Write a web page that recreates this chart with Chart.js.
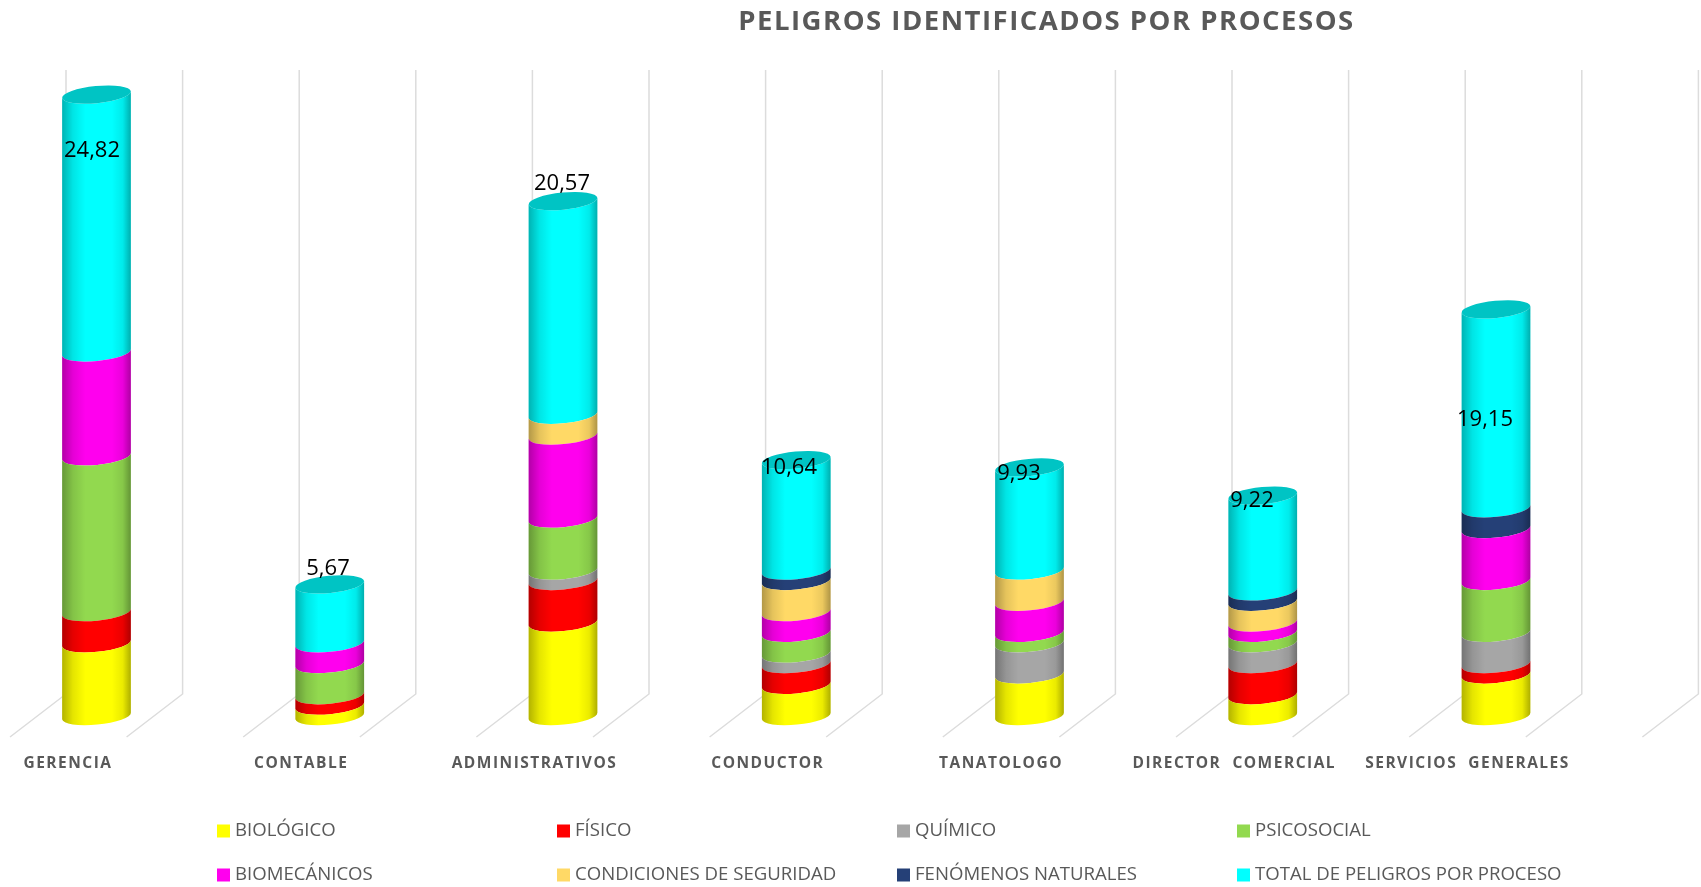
<!DOCTYPE html>
<html lang="es">
<head>
<meta charset="utf-8">
<title>Peligros identificados por procesos</title>
<style>html,body{margin:0;padding:0;background:#fff}canvas{display:block}</style>
<script src="https://cdn.jsdelivr.net/npm/chart.js@4"></script>
</head>
<body>
<canvas id="c" width="1701" height="887"></canvas>
<script>
const titleText = 'PELIGROS IDENTIFICADOS POR PROCESOS';
const categories = ['GERENCIA','CONTABLE','ADMINISTRATIVOS','CONDUCTOR','TANATOLOGO','DIRECTOR  COMERCIAL','SERVICIOS  GENERALES'];
const biologico   = [7, 1, 9, 3, 4, 2, 4];
const fisico      = [3, 1, 4, 2, 0, 3, 1];
const quimico     = [0, 0, 1, 1, 3, 2, 3];
const psicosocial = [15, 3, 5, 2, 1, 1, 5];
const biomecanicos= [10, 2, 8, 2, 3, 1, 5];
const condiciones = [0, 0, 2, 3, 3, 2, 0];
const fenomenos   = [0, 0, 0, 1, 0, 1, 2];
const totalProceso= [24.82, 5.67, 20.57, 10.64, 9.93, 9.22, 19.15];

const seriesNames = ['BIOLÓGICO','FÍSICO','QUÍMICO','PSICOSOCIAL','BIOMECÁNICOS','CONDICIONES DE SEGURIDAD','FENÓMENOS NATURALES','TOTAL DE PELIGROS POR PROCESO'];
const seriesValues = [biologico,fisico,quimico,psicosocial,biomecanicos,condiciones,fenomenos,totalProceso];
const seriesColors = ['#ffff00','#ff0000','#a6a6a6','#92d94f','#ff00ee','#ffd966','#254077','#00ffff'];

const RY = 8.6, TILT = -5.5 * Math.PI / 180;

// Cylinder look for the library's own bar elements
Chart.BarElement.prototype.draw = function (ctx) {
  const {x, y, base, width} = this.getProps(['x','y','base','width']);
  if (Math.abs(base - y) < 0.01) return;
  const rx = width / 2;
  ctx.save();
  ctx.beginPath();
  ctx.ellipse(x, y, rx, RY, TILT, 0, Math.PI, false);
  ctx.ellipse(x, base, rx, RY, TILT, Math.PI, 0, true);
  ctx.closePath();
  ctx.fillStyle = this.options.backgroundColor;
  ctx.fill();
  const g = ctx.createLinearGradient(x - rx, 0, x + rx, 0);
  g.addColorStop(0, 'rgba(0,0,0,0.30)');
  g.addColorStop(0.16, 'rgba(0,0,0,0.10)');
  g.addColorStop(0.34, 'rgba(0,0,0,0)');
  g.addColorStop(0.72, 'rgba(0,0,0,0)');
  g.addColorStop(0.88, 'rgba(0,0,0,0.08)');
  g.addColorStop(1, 'rgba(0,0,0,0.32)');
  ctx.fillStyle = g;
  ctx.fill();
  ctx.restore();
};

const peligros3d = {
  id: 'peligros3d',
  beforeDraw(chart) { chart.ctx.letterSpacing = '1.5px'; },
  afterLayout(chart) {
    const o = chart.options.plugins.peligros3d;
    chart.titleBlock.left = o.titleLeft;
    chart.titleBlock.right = o.titleRight;
  },
  beforeDatasetsDraw(chart, args, o) {
    const ctx = chart.ctx, w = o.wall, x0 = chart.scales.x.getPixelForTick(0);
    ctx.save();
    ctx.strokeStyle = w.color; ctx.lineWidth = w.width;
    ctx.beginPath();
    for (let k = 0; k < w.count; k++) {
      const bx = x0 + w.backDx + k * w.step;
      ctx.moveTo(bx, w.top);
      ctx.lineTo(bx, w.backY);
      ctx.lineTo(bx + w.slant, w.frontY);
    }
    ctx.stroke();
    ctx.restore();
  },
  afterDatasetsDraw(chart, args, o) {
    const ctx = chart.ctx, last = chart.getDatasetMeta(chart.data.datasets.length - 1);
    ctx.save();
    ctx.letterSpacing = '0px';
    last.data.forEach((el, i) => {
      ctx.beginPath();
      ctx.ellipse(el.x, el.y, el.width / 2, RY, TILT, 0, Math.PI * 2);
      ctx.fillStyle = o.capColor;
      ctx.fill();
    });
    ctx.font = o.labelFont;
    ctx.fillStyle = '#000';
    ctx.textAlign = 'center';
    ctx.textBaseline = 'middle';
    last.data.forEach((el, i) => {
      const txt = totalProceso[i].toFixed(2).replace('.', ',');
      ctx.fillText(txt, el.x + o.labelDx[i], el.y + o.labelDy[i]);
    });
    // legend
    const l = o.legend;
    ctx.font = l.font;
    ctx.textAlign = 'left';
    chart.data.datasets.forEach((ds, i) => {
      const cx = l.x + (i % 4) * l.colStep, cy = l.y + Math.floor(i / 4) * l.rowStep;
      ctx.fillStyle = ds.backgroundColor;
      ctx.fillRect(cx, cy - l.box / 2, l.box, l.box);
      ctx.fillStyle = l.color;
      ctx.fillText(ds.label, cx + l.textDx, cy);
    });
    ctx.restore();
  },
  afterDraw(chart) { chart.ctx.letterSpacing = '0px'; }
};

new Chart(document.getElementById('c'), {
  type: 'bar',
  data: {
    labels: categories,
    datasets: seriesNames.map((name, i) => ({
      label: name,
      data: seriesValues[i],
      backgroundColor: seriesColors[i],
      stack: 'p',
      barThickness: 69,
      clip: false
    }))
  },
  options: {
    responsive: false,
    animation: false,
    layout: { padding: { left: 96.5, right: 205, top: 0, bottom: 76.2 } },
    scales: {
      x: {
        stacked: true,
        offset: false,
        grid: { display: false, drawTicks: false },
        border: { display: false },
        ticks: {
          color: '#595959',
          font: { family: '"Open Sans"', size: 15.5, weight: 'bold' },
          padding: 38.1,
          labelOffset: -28.5,
          autoSkip: false,
          maxRotation: 0
        }
      },
      y: { stacked: true, display: false, min: 0, max: 62 }
    },
    plugins: {
      legend: { display: false },
      tooltip: { enabled: false },
      title: {
        display: true,
        text: titleText,
        color: '#595959',
        font: { family: '"Open Sans"', size: 27.5, weight: 'bold', lineHeight: 1.2 },
        padding: { top: 6, bottom: 33 }
      },
      peligros3d: {
        titleLeft: 392, titleRight: 1701,
        capColor: '#00c4c4',
        labelFont: '22px "Open Sans"',
        labelDx: [-4.5, -1.75, -1, -7.25, -10.5, -10.75, -11],
        labelDy: [56, -16, -17.5, 8, 6, 5, 110],
        wall: { top: 70, backY: 694, frontY: 737, backDx: -30.5, slant: -56, step: 116.6, count: 15, color: '#dcdcdc', width: 1.5 },
        legend: { x: 217, y: 831, colStep: 340, rowStep: 44, box: 13, textDx: 18, font: '18.6px "Open Sans"', color: '#595959' }
      }
    }
  },
  plugins: [peligros3d]
});
</script>
</body>
</html>
